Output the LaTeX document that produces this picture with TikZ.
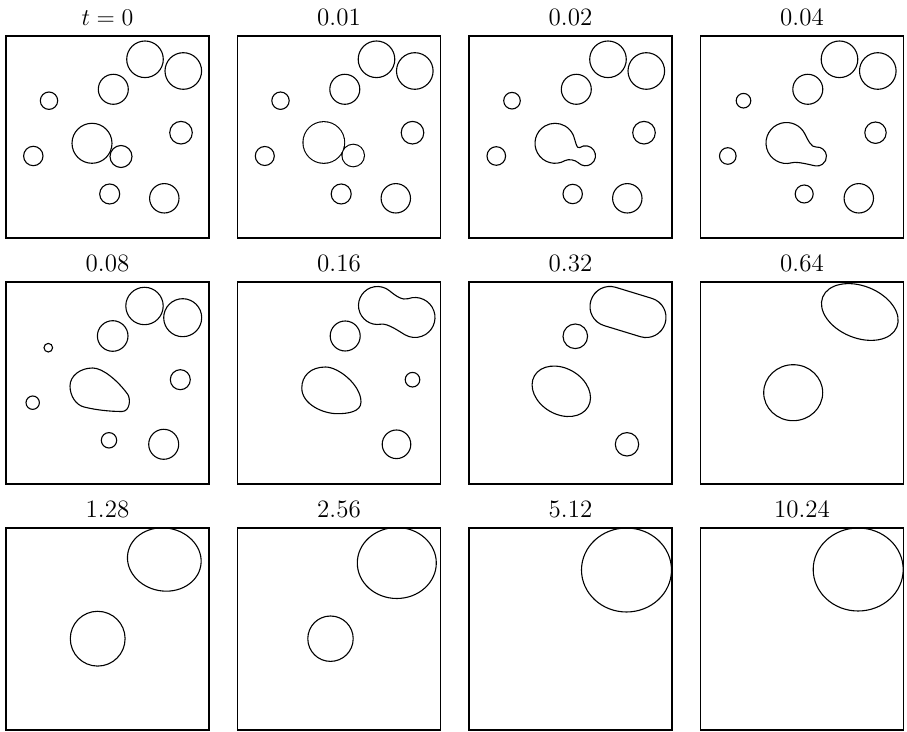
\documentclass[tikz,border=0pt]{standalone}
\usepackage{tikz}

\begin{document}
\begin{tikzpicture}[
			x=0.5pt, y=-0.5pt,
			frame/.style={draw=black, line width=0.8pt},
			drop/.style={draw=black, line width=0.55pt},
			stamp/.style={anchor=base, inner sep=0pt, font=\fontsize{12.5}{15}\selectfont}
			]
			\useasboundingbox (0,0) rectangle (907,732);

			% first row
			\begin{scope}[shift={(6,36)}]
				\node[stamp] (hd1) at (101.5,-10) {$t=0$};
				\foreach \cx/\cy/\r in {139/23.3/18.3, 177.3/35/18.3, 107.3/53.3/15, 43/64.7/8.7, 175/96.7/11.3,
					27.3/120/9.7, 103.7/158/10, 158.3/162.3/14.7, 86/107.3/20, 115/120.5/11}
				\draw[drop] (\cx,\cy) circle (\r);
				\draw[frame] (0,0) rectangle (203,202);
			\end{scope}

			\begin{scope}[shift={(237.5,36)}]
				\node[stamp] (hd2) at (101.5,-10) {0.01};
				\foreach \cx/\cy/\r in {139/23.3/18.3, 177.3/35/18.3, 107.3/53.3/15, 43/64.7/8.7, 175/96.7/11.3,
					27.3/120/9.5, 103.7/158/10, 158.3/162.3/14.7}
				\draw[drop] (\cx,\cy) circle (\r);
				\draw[line width=1.1pt] (86.3,106.5) circle (20.3) (115.7,119.5) circle (10.7);
				\fill[white] (86.3,106.5) circle (20.3) (115.7,119.5) circle (10.7);
				\draw[frame] (0,0) rectangle (203,202);
			\end{scope}

			\begin{scope}[shift={(469,36)}]
				\node[stamp] (hd3) at (101.5,-10) {0.02};
				\foreach \cx/\cy/\r in {139/23.3/18.3, 177.3/35/18.3, 107.3/53.3/15, 43/64.7/8.3, 175/96.7/11.3,
					27.3/120/9.3, 103.7/158/9.7, 158.3/162.3/14.7}
				\draw[drop] (\cx,\cy) circle (\r);
				\draw[drop] (104.1,98.85) .. controls (106.2,103.4) and (107.5,113.9) .. (110.76,111.6)
					arc[start angle=235, end angle=495, radius=10]
					.. controls (106.6,124) and (99.5,122.6) .. (96,124.62)
					arc[start angle=60, end angle=335, radius=20] -- cycle;
				\draw[frame] (0,0) rectangle (203,202);
			\end{scope}

			\begin{scope}[shift={(700.5,36)}]
				\node[stamp] (hd4) at (101.5,-10) {0.04};
				\foreach \cx/\cy/\r in {139/23.3/18.3, 177.3/35/18.3, 107.3/53.3/15, 43/64.7/7.3, 175/96.7/10.7,
					27.3/120/8.3, 103.7/158/9, 158.3/162.3/14.7}
				\draw[drop] (\cx,\cy) circle (\r);
				\draw[drop] (104.6,98.3) .. controls (107.1,103.7) and (110.8,111.6) .. (115.67,111.04)
					arc[start angle=265, end angle=460, radius=9.5]
					.. controls (109.5,128.9) and (97.1,125.2) .. (91.3,126.8)
					arc[start angle=75, end angle=335, radius=20.5] -- cycle;
				\draw[frame] (0,0) rectangle (203,202);
			\end{scope}

			% second row
			\begin{scope}[shift={(6,282)}]
				\node[stamp] (hd5) at (101.5,-10) {0.08};
				\foreach \cx/\cy/\r in {138.5/24/18.7, 176.7/35.7/19, 106.7/54/15.3, 42.3/65.7/4.3, 174.3/97.7/10,
					26.7/120.7/6.7, 103/158.3/7.7, 157.7/162.3/15}
				\draw[drop] (\cx,\cy) circle (\r);
				\draw[drop] (86.7,86) .. controls (97,86) and (112,99) .. (121.5,112)
					.. controls (125,116.8) and (124,129.5) .. (116,129.5)
					.. controls (104,129.5) and (90,128) .. (78,125)
					.. controls (70,123) and (64,114) .. (64,104)
					.. controls (64,94) and (74,86) .. (86.7,86) -- cycle;
				\draw[frame] (0,0) rectangle (203,202);
			\end{scope}

			\begin{scope}[shift={(237.5,282)}]
				\node[stamp] (hd6) at (101.5,-10) {0.16};
				\foreach \cx/\cy/\r in {107.7/54/15, 175/97.7/7.3, 159/162.3/14.3}
				\draw[drop] (\cx,\cy) circle (\r);
				\draw[drop] (152.2,8.95) .. controls (157.6,13.5) and (165,18.75) .. (170.66,16.7)
					arc[start angle=250, end angle=480, radius=20]
					.. controls (161.4,49.3) and (150.2,41) .. (143.3,42.2)
					arc[start angle=80, end angle=310, radius=19] -- cycle;
				\draw[drop] (88,85) .. controls (101,85) and (123.5,103) .. (123.5,120)
					.. controls (123.5,130) and (110,131.7) .. (100,131.7)
					.. controls (85,131.7) and (64.3,122) .. (64.3,106)
					.. controls (64.3,94) and (73,85) .. (88,85) -- cycle;
				\draw[frame] (0,0) rectangle (203,202);
			\end{scope}

			\begin{scope}[shift={(469,282)}]
				\node[stamp] (hd7) at (101.5,-10) {0.32};
				\foreach \cx/\cy/\r in {106.3/54.3/12.3, 158/162.3/11.7}
				\draw[drop] (\cx,\cy) circle (\r);
				\draw[drop, rotate around={-17:(159,30)}, rounded corners=9.9pt] (120.2,10) rectangle (197.8,50);
				\draw[drop, rotate around={-30:(92.3,109.3)}] (92.3,109.3) ellipse (31 and 23);
				\draw[frame] (0,0) rectangle (203,202);
			\end{scope}

			\begin{scope}[shift={(700.5,282)}]
				\node[stamp] (hd8) at (101.5,-10) {0.64};
				\begin{scope}
					\clip (0,0) rectangle (203,202);
					\draw[drop, rotate around={-22:(159.3,30)}] (159.3,30) ellipse (40 and 26);
					\draw[drop] (92.7,110.7) ellipse (29.5 and 28);
				\end{scope}
				\draw[frame] (0,0) rectangle (203,202);
			\end{scope}

			% third row
			\begin{scope}[shift={(6,528)}]
				\node[stamp] (hd9) at (101.5,-10) {1.28};
				\begin{scope}
					\clip (0,0) rectangle (203,202);
					\draw[drop, rotate around={-10:(158.3,31.5)}] (158.3,31.5) ellipse (37 and 31.5);
					\draw[drop] (91.7,110.7) circle (27.4);
				\end{scope}
				\draw[frame] (0,0) rectangle (203,202);
			\end{scope}

			\begin{scope}[shift={(237.5,528)}]
				\node[stamp] (hd10) at (101.5,-10) {2.56};
				\begin{scope}
					\clip (0,0) rectangle (203,202);
					\draw[drop] (159.3,35) ellipse (39.5 and 35.5);
					\draw[drop] (93,110.7) circle (22.7);
				\end{scope}
				\draw[frame] (0,0) rectangle (203,202);
			\end{scope}

			\begin{scope}[shift={(469,528)}]
				\node[stamp] (hd11) at (101.5,-10) {5.12};
				\begin{scope}
					\clip (0,0) rectangle (203,202);
					\draw[drop] (157.5,42) ellipse (45 and 42);
				\end{scope}
				\draw[frame] (0,0) rectangle (203,202);
			\end{scope}

			\begin{scope}[shift={(700.5,528)}]
				\node[stamp] (hd12) at (101.5,-10) {10.24};
				\begin{scope}
					\clip (0,0) rectangle (203,202);
					\draw[drop] (157.7,41.5) ellipse (45 and 41.5);
				\end{scope}
				\draw[frame] (0,0) rectangle (203,202);
			\end{scope}
		\end{tikzpicture}
\end{document}
